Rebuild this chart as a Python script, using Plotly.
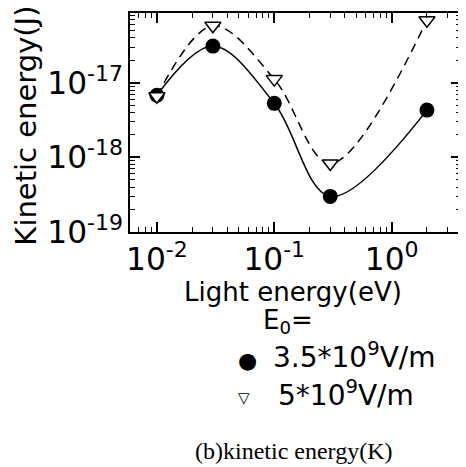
import numpy as np
import plotly.graph_objects as go

# ---- data ----
light_energy = [0.01, 0.03, 0.1, 0.3, 2.0]                     # eV
ke_35 = [6.8e-18, 3.1e-17, 5.3e-18, 3.0e-19, 4.3e-18]          # E0 = 3.5e9 V/m (J)
ke_50 = [6.6e-18, 5.8e-17, 1.12e-17, 8.3e-19, 6.9e-17]         # E0 = 5e9 V/m (J)

x_decades = [-2, -1, 0]          # tick label exponents
y_decades = [-19, -18, -17]

legend_35 = "3.5*10<sup>9</sup>V/m"
legend_50 = "5*10<sup>9</sup>V/m"

# ---- layout geometry (pixels, page coordinates; page body has 8px margin) ----
OFF = 8
W, H = 466 - OFF, 467 - OFF
L, R, T, B = 130, 463, 13, 232
SANS = "DejaVu Sans"
SUP = 22
MINUS = "\u2212"


def px(xp):
    return (xp - L) / (R - L)


def py(yp):
    return (B - yp) / (B - T)


def default_label(p):
    # label text plotly produces for 10^p with exponentformat="power"
    if p == 0:
        return "1"
    if p == 1:
        return "10"
    return "10<sup>" + ("" if p > 1 else MINUS) + str(abs(p)) + "</sup>"


def custom_label(p):
    exp = ("-" if p < 0 else "") + str(abs(p))
    return '10<sup><span style="font-size:%dpx">%s</span></sup>' % (SUP, exp)


fig = go.Figure()
# smooth curves
fig.add_trace(go.Scatter(
    x=light_energy, y=ke_35, mode="lines", showlegend=False,
    line=dict(color="black", width=1.5, shape="spline"),
))
fig.add_trace(go.Scatter(
    x=light_energy, y=ke_50, mode="lines", showlegend=False,
    line=dict(color="black", width=1.5, shape="spline", dash="9px,6px"),
))
# markers
fig.add_trace(go.Scatter(
    x=light_energy, y=ke_35, mode="markers", name=legend_35, showlegend=False,
    marker=dict(symbol="circle", size=15, color="black"),
))
fig.add_trace(go.Scatter(
    x=light_energy, y=ke_50, mode="markers", name=legend_50, showlegend=False,
    marker=dict(symbol="triangle-down", size=14, color="white",
                line=dict(color="black", width=1.5)),
))

axis_common = dict(
    type="log", showgrid=False, zeroline=False,
    showline=True, linecolor="black", linewidth=2, mirror="ticks",
    ticks="inside", ticklen=10, tickwidth=1.5, tickcolor="black",
    tickmode="linear", tick0=0, dtick=1,
    exponentformat="power", showexponent="all",
    tickfont=dict(family=SANS, size=25, color="black"),
    minor=dict(ticks="inside", ticklen=5, tickwidth=1.2, tickcolor="black",
               dtick="D1", showgrid=False),
)

fig.update_xaxes(
    **axis_common, range=[np.log10(0.0059), np.log10(3.9)],
    labelalias={default_label(p): custom_label(p) for p in x_decades},
)
fig.update_yaxes(
    **axis_common, range=[-19, -16.065],
    labelalias={default_label(p): custom_label(p) for p in y_decades},
)

annots = [
    dict(text="Kinetic energy(J)", x=px(25), y=py(126), textangle=-90,
         font=dict(family=SANS, size=29)),
    dict(text="Light energy(eV)", x=px(294), y=py(292),
         font=dict(family=SANS, size=26)),
    dict(text="E<sub>0</sub>=", x=px(289), y=py(321),
         font=dict(family=SANS, size=26)),
    # key: symbols and labels
    dict(text="\u25cf", x=px(248), y=py(360), font=dict(family=SANS, size=22)),
    dict(text=legend_35, x=px(272), y=py(355), xanchor="left",
         font=dict(family=SANS, size=28)),
    dict(text="\u25bd", x=px(245), y=py(398), font=dict(family=SANS, size=15)),
    dict(text=legend_50, x=px(277), y=py(393), xanchor="left",
         font=dict(family=SANS, size=28)),
    dict(text="(b)kinetic energy(K)", x=px(294), y=py(451),
         font=dict(family="Liberation Serif", size=24)),
]
for a in annots:
    a.setdefault("xanchor", "center")
    a["font"]["color"] = "black"
    fig.add_annotation(xref="paper", yref="paper", showarrow=False,
                       yanchor="middle", **a)

fig.update_layout(
    width=W, height=H,
    margin=dict(l=L - OFF, r=(466 - R), t=T - OFF, b=(467 - B)),
    plot_bgcolor="white",
    showlegend=False,
)

fig.write_html("out.html")
